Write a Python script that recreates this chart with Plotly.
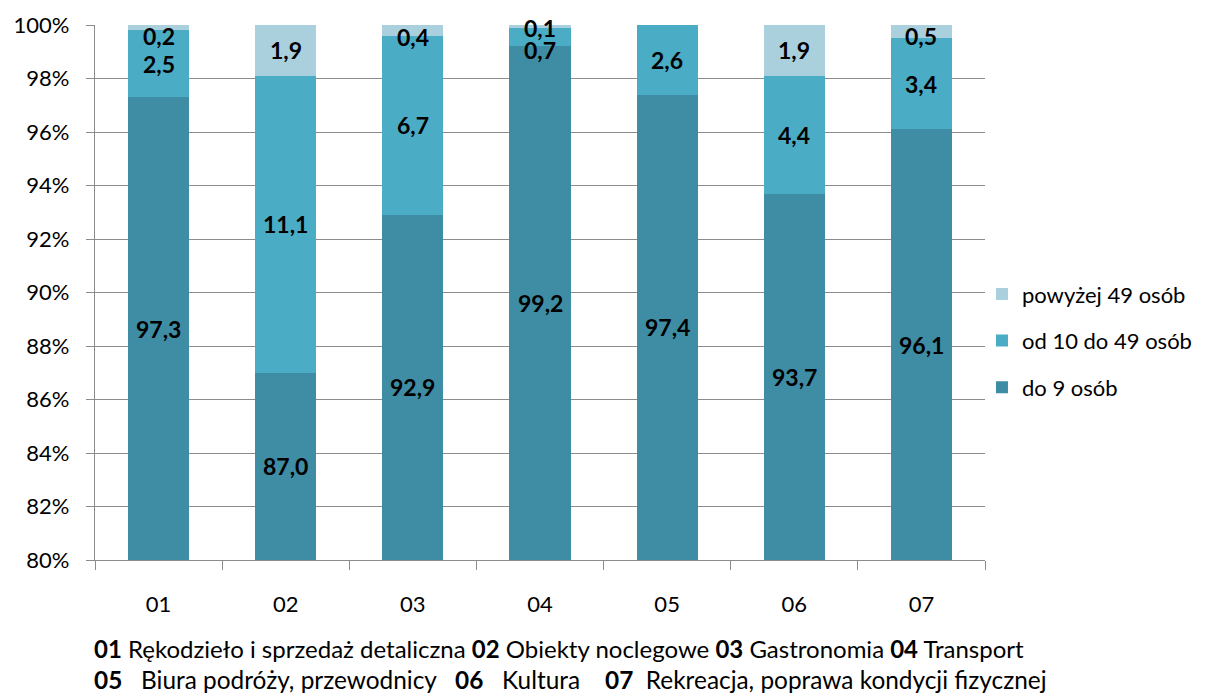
import plotly.graph_objects as go

categories = ["01", "02", "03", "04", "05", "06", "07"]
do_9 = [97.3, 87.0, 92.9, 99.2, 97.4, 93.7, 96.1]
od_10_do_49 = [2.5, 11.1, 6.7, 0.7, 2.6, 4.4, 3.4]
powyzej_49 = [0.2, 1.9, 0.4, 0.1, 0.0, 1.9, 0.5]
series_names = ["do 9 osób", "od 10 do 49 osób", "powyżej 49 osób"]
y_ticks = [80, 82, 84, 86, 88, 90, 92, 94, 96, 98, 100]
y_tick_labels = [f"{v}%" for v in y_ticks]

colors = ["#3E8DA4", "#4BACC6", "#AACFDD"]
FONT = "Lato"
Y_MIN, Y_MAX = 80, 100

# pixel shifts of labels for small segments near the top (Excel-style placement)
shift_mid = [0, 0, 0, -13, 0, 0, 0]
shift_top = [-8, 0, -7, -2, 0, 0, -4]

fig = go.Figure()
series = [do_9, od_10_do_49, powyzej_49]
for k, (name, vals, col) in enumerate(zip(series_names, series, colors)):
    fig.add_trace(go.Bar(
        x=categories, y=vals, name=name, marker=dict(color=col, line=dict(width=0)),
        legendgroup=name, legendrank=3 - k, hoverinfo="skip",
    ))

def fmt(v):
    return f"{v:.1f}".replace(".", ",")

annotations = []
for i, cat in enumerate(categories):
    base = 0.0
    for s, vals in enumerate(series):
        v = vals[i]
        if v > 0:
            lo = max(base, Y_MIN)
            hi = min(base + v, Y_MAX)
            center = (lo + hi) / 2
            shift = 0
            if s == 1:
                shift = shift_mid[i]
            elif s == 2:
                shift = shift_top[i]
            annotations.append(dict(
                x=i, y=center, xref="x", yref="y", text=f"<b>{fmt(v)}</b>",
                showarrow=False, yshift=shift,
                font=dict(family=FONT, size=23, color="black"),
            ))
        base += v

nb = "\u00a0"
annotations.append(dict(
    x=-0.003, y=-0.1645, xref="paper", yref="paper", xanchor="left", yanchor="middle",
    text="<b>01</b> Rękodzieło i sprzedaż detaliczna <b>02</b> Obiekty noclegowe "
         "<b>03</b> Gastronomia <b>04</b> Transport",
    showarrow=False, font=dict(family=FONT, size=24, color="black"), align="left",
))
annotations.append(dict(
    x=-0.003, y=-0.224, xref="paper", yref="paper", xanchor="left", yanchor="middle",
    text=f"<b>05</b>{nb}{nb} Biura podróży, przewodnicy{nb}{nb} <b>06</b>{nb}{nb} Kultura{nb}{nb}{nb} "
         f"<b>07</b>{nb} Rekreacja, poprawa kondycji fizycznej",
    showarrow=False, font=dict(family=FONT, size=24.4, color="black"), align="left",
))

fig.update_layout(
    barmode="stack",
    bargap=0.52,
    width=1199, height=685,
    margin=dict(l=87, r=222, t=17, b=133, autoexpand=False),
    paper_bgcolor="white", plot_bgcolor="white",
    font=dict(family=FONT, size=22, color="black"),
    showlegend=True,
    legend=dict(
        x=0.9966, y=0.41, xanchor="left", yanchor="middle",
        traceorder="grouped", tracegroupgap=15,
        font=dict(family=FONT, size=22, color="black"),
        bgcolor="rgba(0,0,0,0)",
    ),
    annotations=annotations,
)
fig.update_yaxes(
    range=[Y_MIN, Y_MAX], tickvals=y_ticks, ticktext=y_tick_labels,
    showgrid=True, gridcolor="#8C8C8C", gridwidth=1.3,
    showline=True, linecolor="#8C8C8C", linewidth=1.3,
    ticks="outside", ticklen=8, tickcolor="#8C8C8C", tickwidth=1.3,
    ticklabelstandoff=12, zeroline=False, automargin=False,
    tickfont=dict(family=FONT, size=22, color="black"),
)
fig.update_xaxes(
    type="category", range=[-0.5, len(categories) - 0.5],
    showline=True, linecolor="#8C8C8C", linewidth=1.3,
    ticks="outside", ticklen=9, tickcolor="#8C8C8C", tickwidth=1.3,
    tickson="boundaries", ticklabelstandoff=24, automargin=False,
    tickfont=dict(family=FONT, size=22, color="black"),
)

fig.write_html("out.html")
